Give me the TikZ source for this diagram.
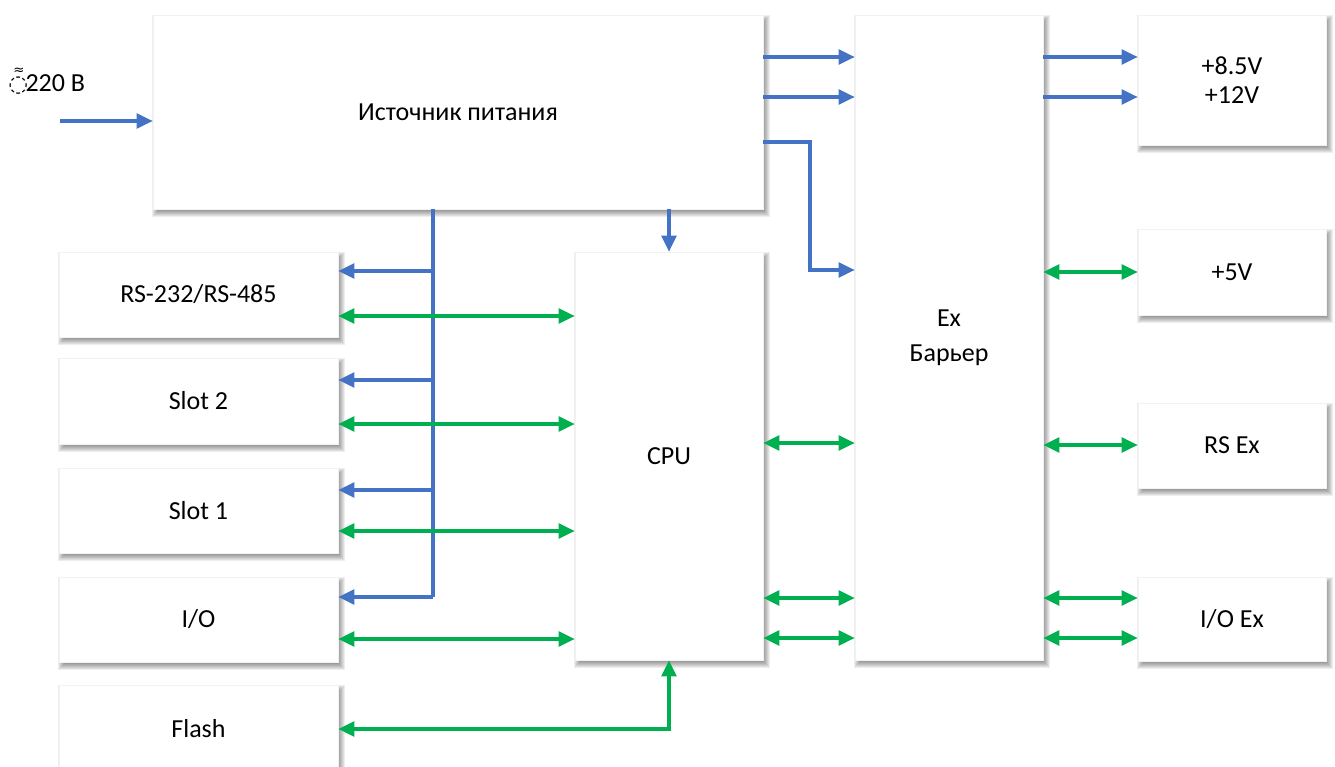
\documentclass[tikz,border=0pt]{standalone}
\usepackage{fontspec}
\setmainfont{Carlito}
\newfontfamily\dejavu{DejaVu Sans}
\usetikzlibrary{arrows.meta}
\definecolor{bl}{HTML}{4472C4}
\definecolor{gr}{HTML}{00B050}
\newcommand\blkbox[7][]{%
  \foreach \m in {-3,...,4}{\fill[black, opacity=0.065] ({#3+3-\m},{#4+4-\m}) rectangle ({#5+3+\m},{#6+4+\m});}
  \node[blk, minimum width={(#5-#3)*0.75pt}, minimum height={(#6-#4)*0.75pt}, #1] (#2) at ({(#3+#5)/2},{(#4+#6)/2}) {#7};}
\begin{document}
\begin{tikzpicture}[x=0.75pt,y=-0.75pt,
  blk/.style={draw=black!5, line width=0.4pt, fill=white, font=\fontsize{19.5}{26}\selectfont, align=center, inner sep=0pt},
  pw/.style={draw=bl, line width=2.3pt, -{Triangle[length=12pt,width=11pt]}},
  bus/.style={draw=bl, line width=2.3pt},
  dt/.style={draw=gr, line width=2.3pt, {Triangle[length=12pt,width=11pt]}-{Triangle[length=12pt,width=11pt]}}]
\useasboundingbox (0,0) rectangle (1335,767);
\fill[white] (0,0) rectangle (1335,767);
\blkbox{ps}{153}{15}{763}{209}{Источник питания}
\blkbox[font=\fontsize{19.5}{22}\selectfont]{v812}{1138}{15}{1326}{145}{+8.5V\\+12V}
\blkbox{ex}{855}{15}{1043}{660}{Ex\\Барьер}
\blkbox{v5}{1138}{229}{1326}{315}{+5V}
\blkbox{rsex}{1138}{403}{1326}{488}{RS Ex}
\blkbox{ioex}{1138}{577}{1326}{661}{I/O Ex}
\blkbox{cpu}{575}{252}{763}{660}{CPU}
\blkbox{rs}{59}{252}{338}{337}{RS-232/RS-485}
\blkbox{s2}{59}{358}{338}{444}{Slot 2}
\blkbox{s1}{59}{468}{338}{553}{Slot 1}
\blkbox{io}{59}{577}{338}{662}{I/O}
\blkbox{fl}{59}{685}{338}{773}{Flash}
\node[anchor=west, inner sep=0pt, font=\fontsize{19.5}{24}\selectfont] (lbl) at (10,81) {{\dejavu\fontsize{17}{18}\selectfont\rlap{\raisebox{1.4ex}{\hspace{0.14em}\fontsize{10}{10}\selectfont≈}}\hspace{-0.08em}\char"25CC\hspace{-0.12em}}220 В};
\coordinate (in) at (60,121);
\draw[pw] (in) -- (in -| ps.west);
% power source to barrier
\draw[pw] (ps.east |- 0,57) -- (ex.west |- 0,57);
\draw[pw] (ps.east |- 0,97) -- (ex.west |- 0,97);
\draw[pw] (ps.east |- 0,142) -| (810,270) -- (ex.west |- 0,270);
% barrier to outputs
\draw[pw] (ex.east |- 0,57) -- (v812.west |- 0,57);
\draw[pw] (ex.east |- 0,97) -- (v812.west |- 0,97);
\draw[dt] (ex.east |- 0,272) -- (v5.west |- 0,272);
\draw[dt] (ex.east |- 0,445) -- (rsex.west |- 0,445);
\draw[dt] (ex.east |- 0,598) -- (ioex.west |- 0,598);
\draw[dt] (ex.east |- 0,638) -- (ioex.west |- 0,638);
% CPU to barrier
\draw[dt] (cpu.east |- 0,443) -- (ex.west |- 0,443);
\draw[dt] (cpu.east |- 0,598) -- (ex.west |- 0,598);
\draw[dt] (cpu.east |- 0,638) -- (ex.west |- 0,638);
% power to CPU
\draw[pw] (ps.south -| cpu.north) -- (cpu.north);
% power bus
\draw[bus] (ps.south -| 433,0) -- (433,597);
\draw[pw] (433,271) -- (rs.east |- 0,271);
\draw[pw] (433,380) -- (s2.east |- 0,380);
\draw[pw] (433,490) -- (s1.east |- 0,490);
\draw[pw] (433,597) -- (io.east |- 0,597);
% data to CPU
\draw[dt] (rs.east |- 0,316) -- (cpu.west |- 0,316);
\draw[dt] (s2.east |- 0,424) -- (cpu.west |- 0,424);
\draw[dt] (s1.east |- 0,531) -- (cpu.west |- 0,531);
\draw[dt] (io.east |- 0,639) -- (cpu.west |- 0,639);
\draw[dt] (fl.east |- 0,729) -| (cpu.south);
\end{tikzpicture}
\end{document}
